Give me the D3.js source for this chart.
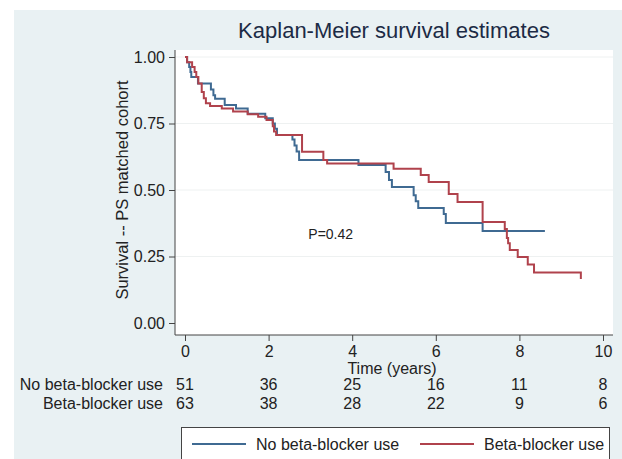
<!DOCTYPE html>
<html>
<head>
<meta charset="utf-8">
<script src="https://cdn.jsdelivr.net/npm/d3@7"></script>
<style>
  body { margin: 0; background: #fff; }
  text { font-family: "Liberation Sans", Arial, sans-serif; }
</style>
</head>
<body>
<div id="chart"></div>
<script>
// Kaplan-Meier data (time in years, survival)
const noBbTimes = [0, 0.05, 0.10, 0.13, 0.15, 0.31, 0.62, 0.68, 0.72, 0.95, 1.22, 1.50, 1.92, 2.10, 2.15, 2.20, 2.57, 2.62, 2.67, 2.73, 4.15, 4.80, 4.88, 4.95, 5.47, 5.52, 5.58, 6.19, 6.24, 7.12, 8.61];
const noBbSurv  = [1, 0.98, 0.962, 0.944, 0.925, 0.90, 0.878, 0.856, 0.843, 0.82, 0.806, 0.787, 0.77, 0.75, 0.73, 0.707, 0.69, 0.667, 0.645, 0.613, 0.594, 0.568, 0.538, 0.511, 0.48, 0.458, 0.432, 0.41, 0.376, 0.346, 0.346];

const bbTimes = [0, 0.05, 0.17, 0.23, 0.27, 0.32, 0.40, 0.45, 0.50, 0.60, 0.88, 1.15, 1.50, 1.75, 1.95, 2.10, 2.13, 2.18, 2.80, 3.31, 3.40, 4.99, 5.64, 5.83, 6.31, 6.52, 7.12, 7.65, 7.70, 7.73, 7.77, 7.96, 8.20, 8.35, 9.47];
const bbSurv  = [1, 0.98, 0.962, 0.944, 0.925, 0.90, 0.868, 0.845, 0.826, 0.816, 0.806, 0.795, 0.785, 0.775, 0.763, 0.74, 0.72, 0.707, 0.644, 0.613, 0.60, 0.58, 0.556, 0.53, 0.485, 0.455, 0.38, 0.353, 0.32, 0.30, 0.274, 0.248, 0.22, 0.19, 0.165];

// number at risk table
const riskTimes = [0, 2, 4, 6, 8, 10];
const riskNoBb  = [51, 36, 25, 16, 11, 8];
const riskBb    = [63, 38, 28, 22, 9, 6];

const xTicks = [0, 2, 4, 6, 8, 10];
const yTicks = [0, 0.25, 0.5, 0.75, 1];

const groups = ["No beta-blocker use", "Beta-blocker use"];
const colors = ["#3f6a92", "#b0424c"];

const W = 622, H = 459;
const svg = d3.select("#chart").append("svg")
    .attr("width", W)
    .attr("height", H);

// graph region background
svg.append("rect").attr("x", 14).attr("y", 10).attr("width", W - 14).attr("height", H - 10)
    .attr("fill", "#e9f1f3");

// plot region
const pr = { left: 175, right: 613, top: 50, bottom: 335 };
svg.append("rect").attr("x", pr.left).attr("y", pr.top)
    .attr("width", pr.right - pr.left).attr("height", pr.bottom - pr.top)
    .attr("fill", "#fff");

const x = d3.scaleLinear().domain([0, 10]).range([185, 603]);
const y = d3.scaleLinear().domain([0, 1]).range([323, 57]);

// grid lines
svg.append("g").selectAll("line").data(yTicks.filter(d => d > 0)).enter().append("line")
    .attr("x1", pr.left).attr("x2", pr.right)
    .attr("y1", d => y(d)).attr("y2", d => y(d))
    .attr("stroke", "#eef1f1").attr("stroke-width", 1);

// y axis
const yAxis = svg.append("g").attr("transform", "translate(" + pr.left + ",0)")
    .call(d3.axisLeft(y).tickValues(yTicks).tickFormat(d3.format(".2f")).tickSize(6).tickPadding(4));
yAxis.select(".domain").remove();
yAxis.selectAll("line").attr("stroke", "#444");
yAxis.selectAll("text").attr("font-size", 16).attr("fill", "#222")
    .style("font-family", "'Liberation Sans', Arial, sans-serif");

// x axis
const xAxis = svg.append("g").attr("transform", "translate(0," + pr.bottom + ")")
    .call(d3.axisBottom(x).tickValues(xTicks).tickFormat(d3.format("d")).tickSize(6).tickPadding(5));
xAxis.select(".domain").remove();
xAxis.selectAll("line").attr("stroke", "#444");
xAxis.selectAll("text").attr("font-size", 16).attr("fill", "#222")
    .style("font-family", "'Liberation Sans', Arial, sans-serif");

// axis lines
svg.append("line").attr("x1", pr.left).attr("x2", pr.left).attr("y1", pr.top).attr("y2", pr.bottom)
    .attr("stroke", "#444").attr("stroke-width", 1);
svg.append("line").attr("x1", pr.left).attr("x2", pr.right).attr("y1", pr.bottom).attr("y2", pr.bottom)
    .attr("stroke", "#444").attr("stroke-width", 1);

// survival curves
const line = d3.line()
    .x(d => x(d[0]))
    .y(d => y(d[1]))
    .curve(d3.curveStepAfter);

const series = [
    d3.zip(noBbTimes, noBbSurv),
    d3.zip(bbTimes, bbSurv)
];
series.forEach((pts, i) => {
    svg.append("path")
        .datum(pts)
        .attr("d", line)
        .attr("fill", "none")
        .attr("stroke", colors[i])
        .attr("stroke-width", 2);
});

// title
svg.append("text").attr("x", 394).attr("y", 38).attr("text-anchor", "middle")
    .attr("font-size", 22).attr("fill", "#1c2b45")
    .text("Kaplan-Meier survival estimates");

// y title
svg.append("text")
    .attr("transform", "translate(128," + (y(0.5)) + ") rotate(-90)")
    .attr("text-anchor", "middle").attr("font-size", 16.5).attr("fill", "#222")
    .text("Survival -- PS matched cohort");

// x title
svg.append("text").attr("x", 392).attr("y", 374).attr("text-anchor", "middle")
    .attr("font-size", 16).attr("fill", "#222")
    .text("Time (years)");

// p value annotation
svg.append("text").attr("x", x(2.95)).attr("y", y(0.316))
    .attr("font-size", 14).attr("fill", "#222")
    .text("P=0.42");

// number at risk rows
const rows = [riskNoBb, riskBb];
const rowY = [390, 409];
rows.forEach((vals, i) => {
    svg.append("text").attr("x", 163).attr("y", rowY[i]).attr("text-anchor", "end")
        .attr("font-size", 16).attr("fill", "#222").text(groups[i]);
    svg.append("g").selectAll("text").data(vals).enter().append("text")
        .attr("x", (d, j) => x(riskTimes[j]))
        .attr("y", rowY[i])
        .attr("text-anchor", "middle")
        .attr("font-size", 16).attr("fill", "#222")
        .text(d => d);
});

// legend
const lg = svg.append("g");
lg.append("rect").attr("x", 181.5).attr("y", 427.5).attr("width", 428).attr("height", 32)
    .attr("fill", "#fff").attr("stroke", "#444");
const lgX = [192, 420];
groups.forEach((g, i) => {
    lg.append("line").attr("x1", lgX[i]).attr("x2", lgX[i] + 54)
        .attr("y1", 444).attr("y2", 444)
        .attr("stroke", colors[i]).attr("stroke-width", 2);
    lg.append("text").attr("x", lgX[i] + 64).attr("y", 450)
        .attr("font-size", 16).attr("fill", "#222").text(g);
});
</script>
</body>
</html>
